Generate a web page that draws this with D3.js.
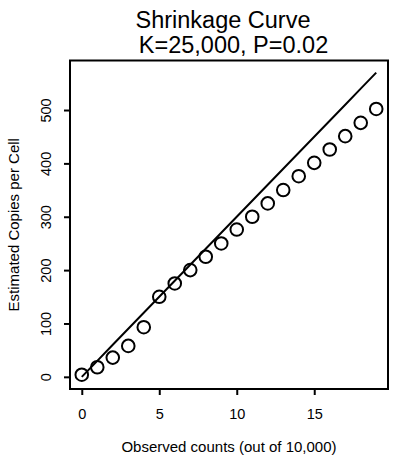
<!DOCTYPE html>
<html>
<head>
<meta charset="utf-8">
<script src="https://cdn.jsdelivr.net/npm/d3@7"></script>
<style>
  html, body { margin: 0; padding: 0; background: #fff; }
  svg { display: block; font-family: "Liberation Sans", Arial, Helvetica, sans-serif; }
</style>
</head>
<body>
<svg id="chart" width="393" height="465"></svg>
<script>
const observedCounts = [0,1,2,3,4,5,6,7,8,9,10,11,12,13,14,15,16,17,18,19];
const estimatedCopies = [4,18,36,58,93,150,175,200,225,250,276,300,325,350,376,401,426,451,476,502];
const lineX = [0,1,2,3,4,5,6,7,8,9,10,11,12,13,14,15,16,17,18,19];
const lineY = [0,30,60,90,120,150,180,210,240,270,300,330,360,390,420,450,480,510,540,570];
const xTicks = [0,5,10,15];
const yTicks = [0,100,200,300,400,500];
const titleLines = ["Shrinkage Curve", "K=25,000, P=0.02"];
const xLabel = "Observed counts (out of 10,000)";
const yLabel = "Estimated Copies per Cell";

const svg = d3.select("#chart");
const box = {left: 70, right: 388, top: 60.5, bottom: 389};

const x = d3.scaleLinear().domain([-0.76, 19.76]).range([box.left, box.right]);
const y = d3.scaleLinear().domain([-22.8, 592.8]).range([box.bottom, box.top]);

// frame
svg.append("rect")
  .attr("x", box.left).attr("y", box.top)
  .attr("width", box.right - box.left).attr("height", box.bottom - box.top)
  .attr("fill", "none").attr("stroke", "#000").attr("stroke-width", 2);

// x axis
const xAxis = d3.axisBottom(x).tickValues(xTicks).tickSize(6).tickPadding(14).tickFormat(d3.format("d"));
const gx = svg.append("g").attr("transform", `translate(0,${box.bottom})`).call(xAxis);
gx.select(".domain").remove();
gx.selectAll(".tick line").attr("stroke", "#000").attr("stroke-width", 2);
gx.selectAll(".tick text").attr("font-size", 14.5).attr("fill", "#000")
  .attr("font-family", "Liberation Sans, Arial, sans-serif");

// y axis
const yAxis = d3.axisLeft(y).tickValues(yTicks).tickSize(6).tickPadding(0).tickFormat(d3.format("d"));
const gy = svg.append("g").attr("transform", `translate(${box.left},0)`).call(yAxis);
gy.select(".domain").remove();
gy.selectAll(".tick line").attr("stroke", "#000").attr("stroke-width", 2);
gy.selectAll(".tick text").remove();
gy.selectAll(".tick").append("text")
  .attr("transform", "translate(-19,0) rotate(-90)")
  .attr("text-anchor", "middle")
  .attr("font-size", 14.5)
  .attr("fill", "#000")
  .attr("font-family", "Liberation Sans, Arial, sans-serif")
  .text(d => d);

// line
const lineData = lineX.map((v, i) => [v, lineY[i]]);
svg.append("path")
  .datum(lineData)
  .attr("fill", "none")
  .attr("stroke", "#000")
  .attr("stroke-width", 2)
  .attr("d", d3.line().x(d => x(d[0])).y(d => y(d[1])));

// points
svg.append("g").selectAll("circle")
  .data(observedCounts.map((v, i) => [v, estimatedCopies[i]]))
  .join("circle")
  .attr("cx", d => x(d[0]))
  .attr("cy", d => y(d[1]))
  .attr("r", 6.3)
  .attr("fill", "none")
  .attr("stroke", "#000")
  .attr("stroke-width", 2);

// title
svg.append("text").attr("x", 223).attr("y", 28).attr("text-anchor", "middle")
  .attr("font-size", 23.5).text(titleLines[0]);
svg.append("text").attr("x", 233.5).attr("y", 53).attr("text-anchor", "middle")
  .attr("font-size", 23.5).text(titleLines[1]);

// axis labels
svg.append("text").attr("x", (box.left + box.right) / 2).attr("y", 452).attr("text-anchor", "middle")
  .attr("font-size", 15).text(xLabel);
svg.append("text")
  .attr("transform", `translate(19,${(box.top + box.bottom) / 2}) rotate(-90)`)
  .attr("text-anchor", "middle").attr("font-size", 15).text(yLabel);
</script>
</body>
</html>
